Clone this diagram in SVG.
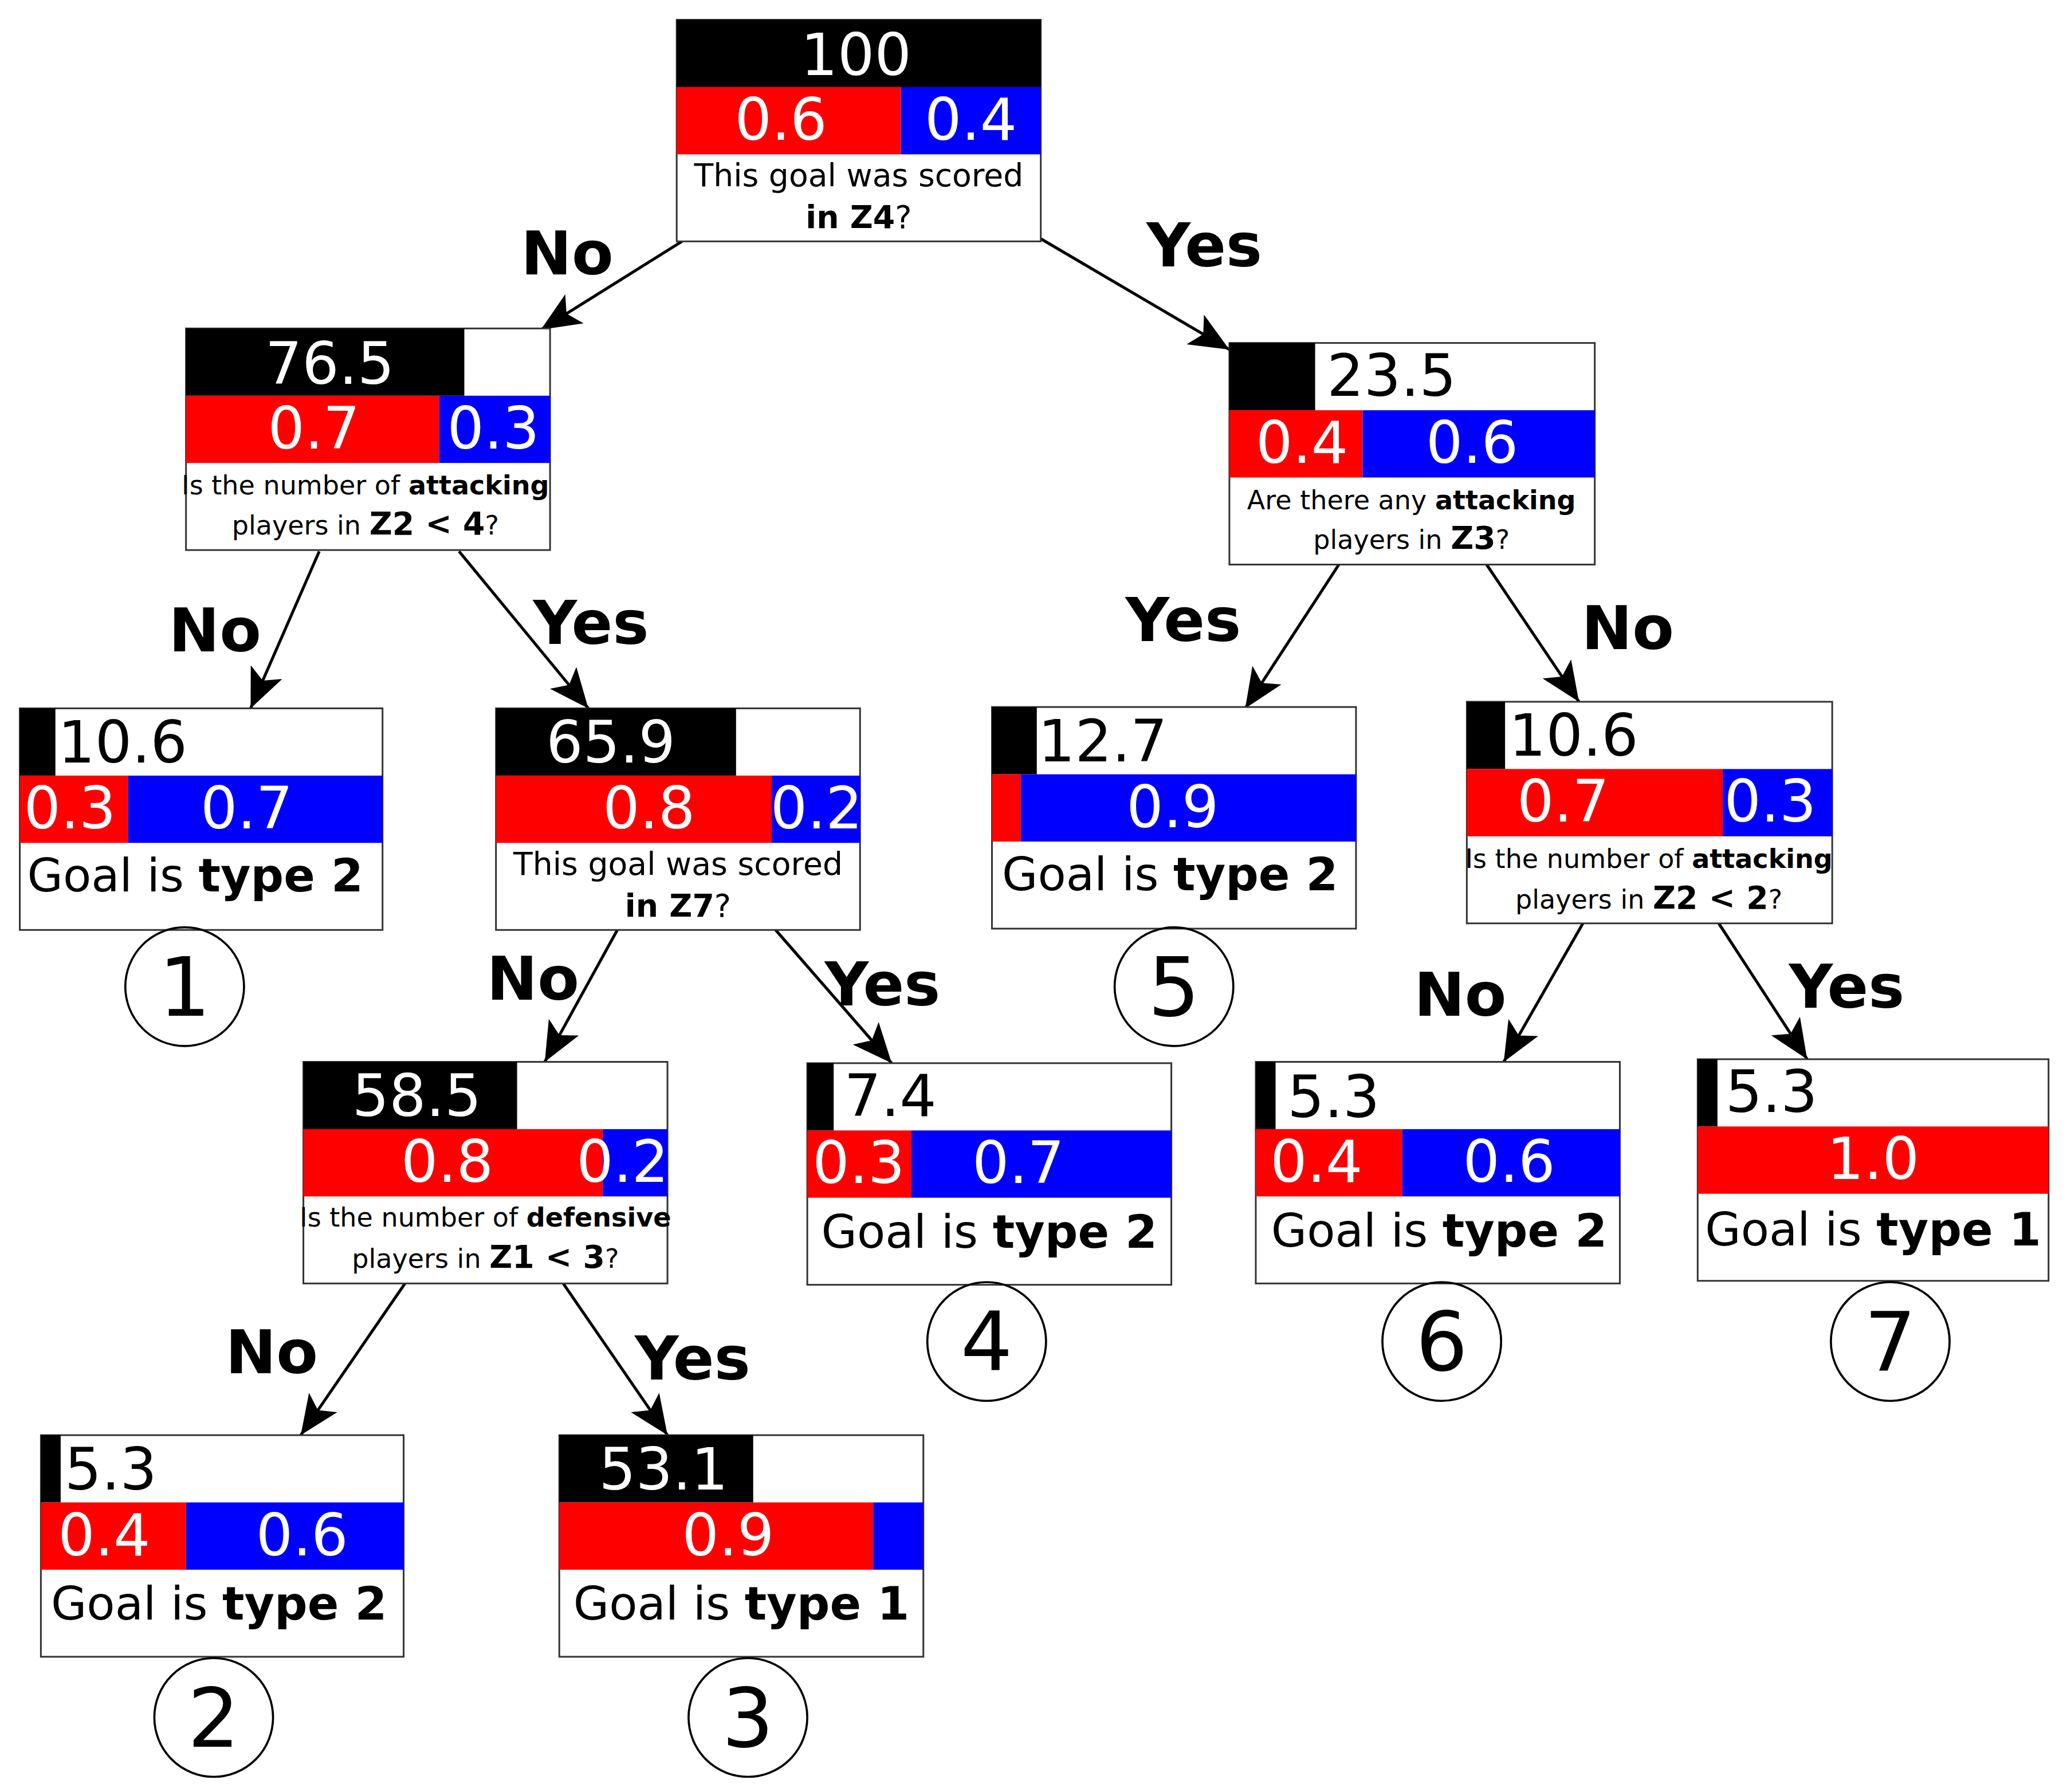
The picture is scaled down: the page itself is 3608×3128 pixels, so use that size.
<svg xmlns="http://www.w3.org/2000/svg" width="3608" height="3128" viewBox="0 0 3608 3128">
<style>
text{font-family:"DejaVu Sans",sans-serif}
.box{fill:#fff;stroke:#333;stroke-width:1.3}
.k{fill:#000}.r{fill:#f00}.b{fill:#00f}
.cnt{font-size:44px;text-anchor:middle;fill:#fff}
.cntl{font-size:44px;fill:#000}
.p{font-size:44px;text-anchor:middle;fill:#fff}
.q{font-size:24px;text-anchor:middle}
.q2{font-size:20px;text-anchor:middle}
.g{font-size:35px;text-anchor:middle}
.lbl{font-size:46px;font-weight:bold;text-anchor:middle}
.num{font-size:62px;text-anchor:middle}
.circ{fill:none;stroke:#000;stroke-width:1.6}
.e{stroke:#000;stroke-width:2.2;fill:none;marker-end:url(#ah)}
</style>
<defs>
<marker id="ah" markerUnits="userSpaceOnUse" markerWidth="32" markerHeight="26" refX="30" refY="13" orient="auto">
<path d="M0,0 L30,13 L0,26 L7,13 Z" fill="#000"/>
</marker>
</defs>
<rect width="3608" height="3128" fill="#fff"/>
<g transform="scale(2.3025)">
<g id="connectors">
<line class="e" x1="517" y1="183" x2="410" y2="250"/>
<line class="e" x1="789" y1="181" x2="932" y2="265"/>
<line class="e" x1="242" y1="418" x2="190" y2="537"/>
<line class="e" x1="348" y1="418" x2="446" y2="537"/>
<line class="e" x1="1015" y1="428" x2="944" y2="537"/>
<line class="e" x1="1127" y1="428" x2="1197" y2="532"/>
<line class="e" x1="468" y1="705" x2="413" y2="805"/>
<line class="e" x1="588" y1="705" x2="676" y2="806"/>
<line class="e" x1="1200" y1="700" x2="1140" y2="805"/>
<line class="e" x1="1303" y1="700" x2="1370" y2="803"/>
<line class="e" x1="307" y1="973" x2="228" y2="1088"/>
<line class="e" x1="427" y1="973" x2="506" y2="1088"/>
<text class="lbl" x="430" y="208">No</text>
<text class="lbl" x="913" y="202">Yes</text>
<text class="lbl" x="163" y="494">No</text>
<text class="lbl" x="448" y="488">Yes</text>
<text class="lbl" x="897" y="486">Yes</text>
<text class="lbl" x="1234" y="492">No</text>
<text class="lbl" x="404" y="758">No</text>
<text class="lbl" x="669" y="762">Yes</text>
<text class="lbl" x="1107" y="770">No</text>
<text class="lbl" x="1400" y="764">Yes</text>
<text class="lbl" x="206" y="1041">No</text>
<text class="lbl" x="525" y="1046">Yes</text>
</g>
<g id="root">
<rect class="box" x="513" y="15" width="276" height="168"/>
<rect class="k" x="513" y="15" width="276" height="51"/>
<rect class="r" x="513" y="66" width="170" height="51"/>
<rect class="b" x="683" y="66" width="106" height="51"/>
<text class="cnt" x="649" y="57">100</text>
<text class="p" x="592" y="106">0.6</text>
<text class="p" x="736" y="106">0.4</text>
<text class="q" x="651" y="141">This goal was scored</text>
<text class="q" x="651" y="173"><tspan font-weight="bold">in Z4</tspan>?</text>
</g>
<g id="n1">
<rect class="box" x="141" y="249" width="276" height="168"/>
<rect class="k" x="141" y="249" width="211" height="51"/>
<rect class="r" x="141" y="300" width="192" height="51"/>
<rect class="b" x="333" y="300" width="84" height="51"/>
<text class="cnt" x="250" y="291">76.5</text>
<text class="p" x="238" y="340">0.7</text>
<text class="p" x="374" y="340">0.3</text>
<text class="q2" x="277" y="375">Is the number of <tspan font-weight="bold">attacking</tspan></text>
<text class="q2" x="277" y="405">players in <tspan font-weight="bold" font-size="24">Z2 &lt; 4</tspan>?</text>
</g>
<g id="n2">
<rect class="box" x="932" y="260" width="277" height="168"/>
<rect class="k" x="932" y="260" width="65" height="51"/>
<rect class="r" x="932" y="311" width="101" height="51"/>
<rect class="b" x="1033" y="311" width="176" height="51"/>
<text class="cntl" x="1006" y="300">23.5</text>
<text class="p" x="987" y="351">0.4</text>
<text class="p" x="1116" y="351">0.6</text>
<text class="q2" x="1070" y="386">Are there any  <tspan font-weight="bold">attacking</tspan></text>
<text class="q2" x="1070" y="416">players in <tspan font-weight="bold" font-size="24">Z3</tspan>?</text>
</g>
<g id="leaf1">
<rect class="box" x="15" y="537" width="275" height="168"/>
<rect class="k" x="15" y="537" width="27" height="51"/>
<rect class="r" x="15" y="588" width="82" height="51"/>
<rect class="b" x="97" y="588" width="193" height="51"/>
<text class="cntl" x="44" y="578">10.6</text>
<text class="p" x="53" y="628">0.3</text>
<text class="p" x="187" y="628">0.7</text>
<text class="g" x="148" y="676">Goal is <tspan font-weight="bold">type 2</tspan></text>
<circle class="circ" cx="140" cy="748" r="45"/>
<text class="num" x="140" y="770">1</text>
</g>
<g id="n3">
<rect class="box" x="376" y="537" width="276" height="168"/>
<rect class="k" x="376" y="537" width="182" height="51"/>
<rect class="r" x="376" y="588" width="209" height="51"/>
<rect class="b" x="585" y="588" width="67" height="51"/>
<text class="cnt" x="463" y="578">65.9</text>
<text class="p" x="492" y="628">0.8</text>
<text class="p" x="619" y="628">0.2</text>
<text class="q" x="514" y="663">This goal was scored</text>
<text class="q" x="514" y="695"><tspan font-weight="bold">in Z7</tspan>?</text>
</g>
<g id="leaf5">
<rect class="box" x="752" y="536" width="276" height="168"/>
<rect class="k" x="752" y="536" width="34" height="51"/>
<rect class="r" x="752" y="587" width="22" height="51"/>
<rect class="b" x="774" y="587" width="254" height="51"/>
<text class="cntl" x="787" y="577">12.7</text>
<text class="p" x="889" y="627">0.9</text>
<text class="g" x="887" y="675">Goal is <tspan font-weight="bold">type 2</tspan></text>
<circle class="circ" cx="890" cy="748" r="45"/>
<text class="num" x="890" y="770">5</text>
</g>
<g id="n4">
<rect class="box" x="1112" y="532" width="277" height="168"/>
<rect class="k" x="1112" y="532" width="29" height="51"/>
<rect class="r" x="1112" y="583" width="194" height="51"/>
<rect class="b" x="1306" y="583" width="83" height="51"/>
<text class="cntl" x="1144" y="573">10.6</text>
<text class="p" x="1185" y="623">0.7</text>
<text class="p" x="1342" y="623">0.3</text>
<text class="q2" x="1250" y="658">Is the number of <tspan font-weight="bold">attacking</tspan></text>
<text class="q2" x="1250" y="689">players in <tspan font-weight="bold" font-size="24">Z2 &lt; 2</tspan>?</text>
</g>
<g id="n5">
<rect class="box" x="230" y="805" width="276" height="168"/>
<rect class="k" x="230" y="805" width="162" height="51"/>
<rect class="r" x="230" y="856" width="227" height="51"/>
<rect class="b" x="457" y="856" width="49" height="51"/>
<text class="cnt" x="316" y="846">58.5</text>
<text class="p" x="339" y="896">0.8</text>
<text class="p" x="472" y="896">0.2</text>
<text class="q2" x="368" y="930">Is the number of <tspan font-weight="bold">defensive</tspan></text>
<text class="q2" x="368" y="961">players in <tspan font-weight="bold" font-size="24">Z1 &lt; 3</tspan>?</text>
</g>
<g id="leaf4">
<rect class="box" x="612" y="806" width="276" height="168"/>
<rect class="k" x="612" y="806" width="20" height="51"/>
<rect class="r" x="612" y="857" width="79" height="51"/>
<rect class="b" x="691" y="857" width="197" height="51"/>
<text class="cntl" x="640" y="846">7.4</text>
<text class="p" x="651" y="897">0.3</text>
<text class="p" x="772" y="897">0.7</text>
<text class="g" x="750" y="946">Goal is <tspan font-weight="bold">type 2</tspan></text>
<circle class="circ" cx="748" cy="1017" r="45"/>
<text class="num" x="748" y="1039">4</text>
</g>
<g id="leaf6">
<rect class="box" x="952" y="805" width="276" height="168"/>
<rect class="k" x="952" y="805" width="15" height="51"/>
<rect class="r" x="952" y="856" width="111" height="51"/>
<rect class="b" x="1063" y="856" width="165" height="51"/>
<text class="cntl" x="976" y="847">5.3</text>
<text class="p" x="998" y="896">0.4</text>
<text class="p" x="1144" y="896">0.6</text>
<text class="g" x="1091" y="945">Goal is <tspan font-weight="bold">type 2</tspan></text>
<circle class="circ" cx="1093" cy="1017" r="45"/>
<text class="num" x="1093" y="1039">6</text>
</g>
<g id="leaf7">
<rect class="box" x="1287" y="803" width="266" height="168"/>
<rect class="k" x="1287" y="803" width="15" height="51"/>
<rect class="r" x="1287" y="854" width="266" height="51"/>
<text class="cntl" x="1308" y="843">5.3</text>
<text class="p" x="1420" y="894">1.0</text>
<text class="g" x="1420" y="944">Goal is <tspan font-weight="bold">type 1</tspan></text>
<circle class="circ" cx="1433" cy="1017" r="45"/>
<text class="num" x="1433" y="1039">7</text>
</g>
<g id="leaf2">
<rect class="box" x="31" y="1088" width="275" height="168"/>
<rect class="k" x="31" y="1088" width="15" height="51"/>
<rect class="r" x="31" y="1139" width="110" height="51"/>
<rect class="b" x="141" y="1139" width="165" height="51"/>
<text class="cntl" x="49" y="1129">5.3</text>
<text class="p" x="79" y="1179">0.4</text>
<text class="p" x="229" y="1179">0.6</text>
<text class="g" x="166" y="1228">Goal is <tspan font-weight="bold">type 2</tspan></text>
<circle class="circ" cx="162" cy="1302" r="45"/>
<text class="num" x="162" y="1324">2</text>
</g>
<g id="leaf3">
<rect class="box" x="424" y="1088" width="276" height="168"/>
<rect class="k" x="424" y="1088" width="147" height="51"/>
<rect class="r" x="424" y="1139" width="238" height="51"/>
<rect class="b" x="662" y="1139" width="38" height="51"/>
<text class="cnt" x="503" y="1129">53.1</text>
<text class="p" x="552" y="1179">0.9</text>
<text class="g" x="562" y="1228">Goal is <tspan font-weight="bold">type 1</tspan></text>
<circle class="circ" cx="567" cy="1302" r="45"/>
<text class="num" x="567" y="1324">3</text>
</g>
</g>
</svg>
